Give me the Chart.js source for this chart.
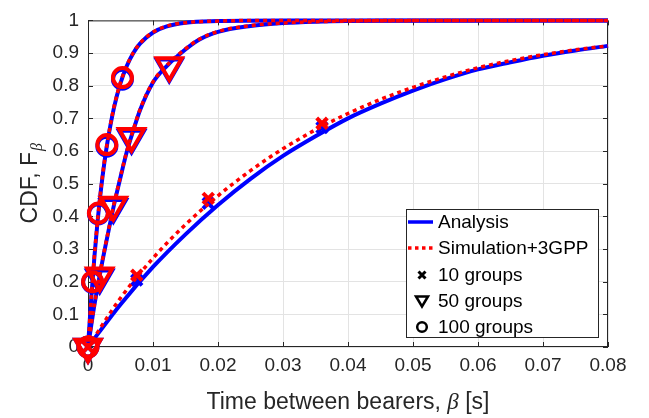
<!DOCTYPE html>
<html>
<head>
<meta charset="utf-8">
<script src="https://cdn.jsdelivr.net/npm/chart.js@4.4.0/dist/chart.umd.min.js"></script>
<style>
  html, body { margin: 0; padding: 0; background: #fff; }
  #cdfChart { display: block; }
</style>
</head>
<body>
<canvas id="cdfChart" width="649" height="418"></canvas>
<script>
// values
var grid10 = [0, 0.005, 0.01, 0.015, 0.02, 0.025, 0.03, 0.035, 0.04, 0.045, 0.05, 0.055, 0.06, 0.065, 0.07, 0.075, 0.08];
var analysis10 = [0, 0.13, 0.245, 0.345, 0.435, 0.515, 0.585, 0.645, 0.7, 0.745, 0.785, 0.82, 0.85, 0.872, 0.892, 0.908, 0.922];
var sim10 = [0, 0.15, 0.272, 0.375, 0.463, 0.54, 0.607, 0.665, 0.715, 0.758, 0.795, 0.827, 0.855, 0.877, 0.895, 0.91, 0.922];

var grid50 = [0, 0.001, 0.002, 0.003, 0.004, 0.005, 0.006, 0.007, 0.008, 0.01, 0.012, 0.014, 0.017, 0.02, 0.025, 0.03, 0.035, 0.045, 0.08];
var analysis50 = [0, 0.13, 0.24, 0.34, 0.435, 0.52, 0.6, 0.665, 0.725, 0.81, 0.858, 0.895, 0.94, 0.965, 0.983, 0.992, 0.996, 0.999, 1];
var sim50 = [0, 0.132, 0.243, 0.343, 0.438, 0.522, 0.602, 0.667, 0.727, 0.812, 0.86, 0.897, 0.941, 0.966, 0.984, 0.992, 0.996, 0.999, 1];

var grid100 = [0, 0.0005, 0.001, 0.0015, 0.002, 0.0025, 0.003, 0.004, 0.005, 0.006, 0.007, 0.008, 0.01, 0.012, 0.015, 0.02, 0.03, 0.08];
var analysis100 = [0, 0.15, 0.28, 0.39, 0.483, 0.562, 0.628, 0.733, 0.808, 0.862, 0.901, 0.929, 0.963, 0.981, 0.993, 0.998, 1, 1];
var sim100 = [0, 0.152, 0.283, 0.393, 0.486, 0.565, 0.63, 0.735, 0.81, 0.863, 0.902, 0.93, 0.964, 0.982, 0.993, 0.998, 1, 1];

var mark10X = [0, 0.0075, 0.0185, 0.036];
var mark10Ana = [0, 0.205, 0.44, 0.672];
var mark10Sim = [0, 0.22, 0.455, 0.685];

var mark50X = [0, 0.0018, 0.0039, 0.0067, 0.0125];
var mark50Ana = [0, 0.212, 0.428, 0.64, 0.858];
var mark50Sim = [0, 0.218, 0.435, 0.645, 0.862];

var mark100X = [0, 0.0007, 0.0016, 0.0029, 0.0053];
var mark100Ana = [0, 0.198, 0.408, 0.615, 0.82];
var mark100Sim = [0, 0.2, 0.41, 0.62, 0.825];

var xTickValues = [0, 0.01, 0.02, 0.03, 0.04, 0.05, 0.06, 0.07, 0.08];
var xTickLabels = ['0', '0.01', '0.02', '0.03', '0.04', '0.05', '0.06', '0.07', '0.08'];
var yTickValues = [0, 0.1, 0.2, 0.3, 0.4, 0.5, 0.6, 0.7, 0.8, 0.9, 1];
var yTickLabels = ['0', '0.1', '0.2', '0.3', '0.4', '0.5', '0.6', '0.7', '0.8', '0.9', '1'];

var legendLabels = ['Analysis', 'Simulation+3GPP', '10 groups', '50 groups', '100 groups'];

var FONT = '"Liberation Sans", Arial, Helvetica, sans-serif';
var AXIS = '#262626';
var BLUE = '#0000ff';
var RED = '#ff0000';

function pts(xs, ys) {
  return xs.map(function(x, i) { return {x: x, y: ys[i]}; });
}

function curve(label, xs, ys, color, dashed) {
  return {
    type: 'line',
    label: label,
    data: pts(xs, ys),
    borderColor: color,
    borderWidth: dashed ? 3.5 : 4,
    borderDash: dashed ? [4, 4] : [],
    borderCapStyle: 'butt',
    pointRadius: 0,
    fill: false,
    cubicInterpolationMode: 'monotone',
    clip: 6,
    order: dashed ? 1 : 3
  };
}

function marks(label, xs, ys, color, style, radius, rot, width, top) {
  return {
    type: 'scatter',
    label: label,
    data: pts(xs, ys),
    showLine: false,
    pointStyle: style,
    pointRadius: radius,
    pointRotation: rot,
    pointBorderWidth: width,
    borderColor: color,
    backgroundColor: 'rgba(0,0,0,0)',
    pointBorderColor: color,
    pointBackgroundColor: 'rgba(0,0,0,0)',
    clip: false,
    order: top ? 0 : 2
  };
}

var datasets = [
  curve('Analysis 10', grid10, analysis10, BLUE, false),
  curve('Analysis 50', grid50, analysis50, BLUE, false),
  curve('Analysis 100', grid100, analysis100, BLUE, false),
  marks('Analysis 10 mk', mark10X, mark10Ana, BLUE, 'crossRot', 7.5, 0, 4, false),
  marks('Analysis 50 mk', mark50X, mark50Ana, BLUE, 'triangle', 14.5, 180, 4, false),
  marks('Analysis 100 mk', mark100X, mark100Ana, BLUE, 'circle', 9.5, 0, 4, false),
  curve('Sim 10', grid10, sim10, RED, true),
  curve('Sim 50', grid50, sim50, RED, true),
  curve('Sim 100', grid100, sim100, RED, true),
  marks('Sim 10 mk', mark10X, mark10Sim, RED, 'crossRot', 7.5, 0, 4, true),
  marks('Sim 50 mk', mark50X, mark50Sim, RED, 'triangle', 14.5, 180, 4, true),
  marks('Sim 100 mk', mark100X, mark100Sim, RED, 'circle', 9.5, 0, 4, true)
];

// box round the axes and inward ticks on all four sides
var boxPlugin = {
  id: 'boxTicks',
  beforeDatasetsDraw: function(chart) {
    var c = chart.ctx, a = chart.chartArea;
    var xs = chart.scales.x, ys = chart.scales.y;
    c.save();
    c.strokeStyle = AXIS;
    c.lineWidth = 1;
    c.strokeRect(a.left + 0.5, a.top + 0.5, a.right - a.left - 1, a.bottom - a.top - 1);
    c.beginPath();
    xTickValues.forEach(function(v) {
      var px = Math.round(xs.getPixelForValue(v)) + 0.5;
      c.moveTo(px, a.bottom); c.lineTo(px, a.bottom - 5);
      c.moveTo(px, a.top); c.lineTo(px, a.top + 5);
    });
    yTickValues.forEach(function(v) {
      var py = Math.round(ys.getPixelForValue(v)) + 0.5;
      c.moveTo(a.left, py); c.lineTo(a.left + 5, py);
      c.moveTo(a.right, py); c.lineTo(a.right - 5, py);
    });
    c.stroke();
    c.restore();
  }
};

// axis titles with the greek beta
var titlePlugin = {
  id: 'axisTitles',
  afterDraw: function(chart) {
    var c = chart.ctx, a = chart.chartArea;
    c.save();
    c.fillStyle = AXIS;
    c.textBaseline = 'alphabetic';
    var p1 = 'Time between bearers, ', p2 = '\u03b2', p3 = ' [s]';
    var fN = '23px ' + FONT, fG = 'italic 23px "Liberation Serif", serif';
    c.font = fN; var w1 = c.measureText(p1).width, w3 = c.measureText(p3).width;
    c.font = fG; var w2 = c.measureText(p2).width;
    var x0 = (a.left + a.right) / 2 - (w1 + w2 + w3) / 2, by = 409;
    c.font = fN; c.fillText(p1, x0, by);
    c.font = fG; c.fillText(p2, x0 + w1, by);
    c.font = fN; c.fillText(p3, x0 + w1 + w2, by);

    c.translate(37, (a.top + a.bottom) / 2);
    c.rotate(-Math.PI / 2);
    var q1 = 'CDF, F', q2 = '\u03b2';
    var fS = 'italic 16px "Liberation Serif", serif';
    c.font = fN; var v1 = c.measureText(q1).width;
    c.font = fS; var v2 = c.measureText(q2).width;
    var s0 = -(v1 + v2) / 2;
    c.font = fN; c.fillText(q1, s0, 0);
    c.font = fS; c.fillText(q2, s0 + v1 + 1, 5);
    c.restore();
  }
};

// legend box inside the axes
var legendPlugin = {
  id: 'boxLegend',
  afterDraw: function(chart) {
    var c = chart.ctx;
    var L = 406, T = 209, R = 599, B = 338;
    var rows = [222, 248, 275, 301, 327];
    c.save();
    c.fillStyle = '#fff';
    c.fillRect(L, T, R - L, B - T);
    c.strokeStyle = AXIS;
    c.lineWidth = 1;
    c.strokeRect(L + 0.5, T + 0.5, R - L - 1, B - T - 1);

    c.lineCap = 'butt';
    c.strokeStyle = BLUE; c.lineWidth = 3.5;
    c.beginPath(); c.moveTo(408, rows[0]); c.lineTo(433, rows[0]); c.stroke();
    c.strokeStyle = RED; c.setLineDash([3.5, 3.5]);
    c.beginPath(); c.moveTo(408, rows[1]); c.lineTo(433, rows[1]); c.stroke();
    c.setLineDash([]);

    var mx = 422;
    c.strokeStyle = '#000'; c.lineWidth = 3;
    c.beginPath();
    c.moveTo(mx - 3.5, rows[2] - 3.5); c.lineTo(mx + 3.5, rows[2] + 3.5);
    c.moveTo(mx + 3.5, rows[2] - 3.5); c.lineTo(mx - 3.5, rows[2] + 3.5);
    c.stroke();
    c.lineWidth = 2.5;
    c.beginPath();
    c.moveTo(mx - 6, rows[3] - 4.5); c.lineTo(mx + 6, rows[3] - 4.5); c.lineTo(mx, rows[3] + 5.5);
    c.closePath(); c.stroke();
    c.beginPath(); c.arc(mx, rows[4], 4.8, 0, Math.PI * 2); c.stroke();

    c.fillStyle = '#000';
    c.font = '19px ' + FONT;
    c.textBaseline = 'middle';
    legendLabels.forEach(function(t, i) { c.fillText(t, 438, rows[i] + 1); });
    c.restore();
  }
};

var ctx = document.getElementById('cdfChart').getContext('2d');
var chart = new Chart(ctx, {
  data: { datasets: datasets },
  options: {
    responsive: false,
    devicePixelRatio: 1,
    animation: false,
    layout: { padding: { top: 9, right: 41, left: 0, bottom: 0 } },
    plugins: { legend: { display: false }, tooltip: { enabled: false } },
    scales: {
      x: {
        type: 'linear', min: 0, max: 0.08,
        afterBuildTicks: function(s) { s.ticks = xTickValues.map(function(v) { return {value: v}; }); },
        afterFit: function(s) { s.height = 71; },
        ticks: {
          callback: function(v, i) { return xTickLabels[i]; },
          font: { family: FONT, size: 19 }, color: AXIS, padding: 7,
          maxRotation: 0, autoSkip: false
        },
        grid: { color: '#e3e3e3', lineWidth: 1, drawTicks: false },
        border: { display: false }
      },
      y: {
        type: 'linear', min: 0, max: 1,
        afterBuildTicks: function(s) { s.ticks = yTickValues.map(function(v) { return {value: v}; }); },
        afterFit: function(s) { s.width = 88; },
        ticks: {
          callback: function(v, i) { return yTickLabels[i]; },
          font: { family: FONT, size: 19 }, color: AXIS, padding: 9,
          autoSkip: false
        },
        grid: { color: '#e3e3e3', lineWidth: 1, drawTicks: false },
        border: { display: false }
      }
    }
  },
  plugins: [boxPlugin, titlePlugin, legendPlugin]
});
</script>
</body>
</html>
